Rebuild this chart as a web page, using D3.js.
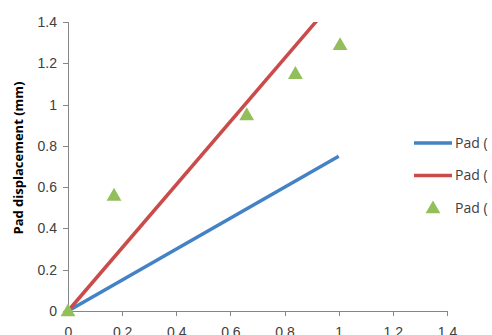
<!DOCTYPE html>
<html>
<head>
<meta charset="utf-8">
<script src="https://d3js.org/d3.v7.min.js"></script>
<style>
    body { margin: 0; background: #fff; }
    svg { display: block; font-family: "Open Sans", sans-serif; }
    .axis path, .axis line { stroke: #868686; shape-rendering: crispEdges; }
    .axis text { fill: #404040; font-size: 14px; }
    .line { fill: none; stroke-width: 3.5px; }
</style>
</head>
<body>
<svg width="492" height="335"></svg>
<script>
    // data
    const xTicks = [0, 0.2, 0.4, 0.6, 0.8, 1, 1.2, 1.4];
    const yTicks = [0, 0.2, 0.4, 0.6, 0.8, 1, 1.2, 1.4];

    const blueX = [0, 1.0];
    const blueY = [0, 0.75];

    const redX = [0, 1.0];
    const redY = [0, 1.53];

    const measX = [0, 0.17, 0.66, 0.84, 1.005];
    const measY = [0, 0.56, 0.95, 1.15, 1.29];

    const seriesNames = ["Pad (", "Pad (", "Pad ("];
    const colors = ["#4382c4", "#c94c4a", "#93bf5a"];

    const margin = {top: 22, left: 68},
          width = 379,
          height = 289;

    const svg = d3.select("svg");
    const g = svg.append("g")
        .attr("transform", `translate(${margin.left},${margin.top})`);

    const x = d3.scaleLinear().domain([0, 1.4]).range([0, width]);
    const y = d3.scaleLinear().domain([0, 1.4]).range([height, 0]);

    g.append("clipPath").attr("id", "plot")
        .append("rect").attr("x", -5).attr("y", 0).attr("width", width + 5).attr("height", height + 5);

    // axes
    g.append("g")
        .attr("class", "axis")
        .call(d3.axisLeft(y).tickValues(yTicks).tickSize(5).tickPadding(6).tickFormat(d3.format("")))
        .call(a => a.select(".domain").attr("d", `M-5,0.5H0.5V${height}`));

    g.append("g")
        .attr("class", "axis")
        .attr("transform", `translate(0,${height})`)
        .call(d3.axisBottom(x).tickValues(xTicks).tickSize(5).tickPadding(11).tickFormat(d3.format("")))
        .call(a => a.select(".domain").attr("d", `M0,0.5H${width}V5`));

    svg.append("text")
        .attr("transform", "translate(23,158) rotate(-90)")
        .attr("text-anchor", "middle")
        .style("font-size", "13px")
        .style("font-weight", "bold")
        .style("fill", "#000")
        .text("Pad displacement (mm)");

    const line = d3.line().x(d => x(d[0])).y(d => y(d[1]));

    const plot = g.append("g").attr("clip-path", "url(#plot)");

    plot.append("path")
        .attr("class", "line")
        .attr("d", line(blueX.map((v, i) => [v, blueY[i]])))
        .style("stroke", colors[0]);

    plot.append("path")
        .attr("class", "line")
        .attr("d", line(redX.map((v, i) => [v, redY[i]])))
        .style("stroke", colors[1]);

    const tri = d3.symbol().type(d3.symbolTriangle).size(95);
    g.selectAll(".pt")
        .data(measX.map((v, i) => [v, measY[i]]))
        .enter().append("path")
        .attr("class", "pt")
        .attr("d", tri)
        .attr("transform", d => `translate(${x(d[0])},${y(d[1]) + 1})`)
        .style("fill", colors[2]);

    // legend
    const legend = svg.selectAll(".legend")
        .data(seriesNames)
        .enter().append("g")
        .attr("class", "legend")
        .attr("transform", (d, i) => `translate(414,${143 + i * 32.5})`);

    legend.filter((d, i) => i < 2).append("line")
        .attr("x1", 0).attr("x2", 38)
        .attr("stroke-width", 3.5)
        .attr("stroke", (d, i) => colors[i]);

    legend.filter((d, i) => i === 2).append("path")
        .attr("d", tri)
        .attr("transform", "translate(19,1)")
        .style("fill", colors[2]);

    legend.append("text")
        .attr("x", 41)
        .attr("dy", "0.35em")
        .style("font-size", "14px")
        .style("fill", "#404040")
        .text(d => d);
</script>
</body>
</html>
